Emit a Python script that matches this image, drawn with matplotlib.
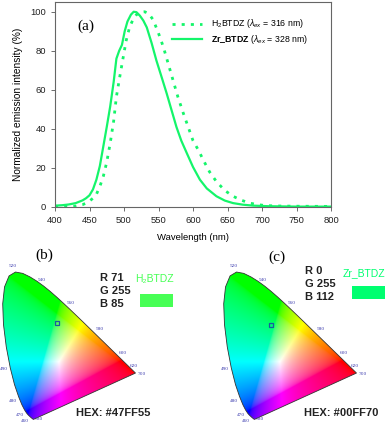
import numpy as np
import matplotlib
matplotlib.use("Agg")
import matplotlib.pyplot as plt
from matplotlib.patches import Polygon, Rectangle

SANS = "Liberation Sans"
SERIF = "Liberation Serif"
plt.rcParams["mathtext.fontset"] = "custom"
plt.rcParams["mathtext.rm"] = SANS
plt.rcParams["mathtext.it"] = SANS + ":italic"
plt.rcParams["mathtext.bf"] = SANS + ":bold"

# --- DONNEES ---
# spectres d'emission normalises
wl_zr = [400, 410, 420, 430, 440, 445, 450, 455, 460, 465, 470, 475, 480, 485, 489,
         493, 497, 501, 505, 510, 514, 518, 523, 528, 533, 540, 547, 555, 562, 569,
         576, 583, 591, 600, 610, 620, 634, 646, 658, 672, 687, 710, 750, 800]
int_zr = [0.7, 0.9, 1.3, 2.0, 3.4, 4.5, 6, 9, 14, 21, 31, 41, 51.5, 64, 76,
          80, 83, 90, 95, 98.5, 100, 99.8, 98, 95.5, 92, 84, 75, 66, 58, 49.5,
          41, 34, 27.6, 20.5, 14, 9.5, 5.5, 3.3, 2, 1.2, 0.7, 0.4, 0.2, 0.2]

wl_h2 = [400, 420, 430, 440, 445, 450, 455, 460, 465, 470, 475, 480, 485, 489, 494,
         499, 503, 508, 513, 518, 524, 530, 536, 542, 549, 557, 564, 571, 578, 586,
         593, 600, 608, 615, 624, 634, 646, 658, 670, 682, 694, 706, 725, 750, 800]
int_h2 = [0.2, 0.3, 0.5, 1.2, 2, 3, 4.5, 6.5, 10.5, 15.7, 23, 32.7, 44, 56.5, 67,
          77, 85, 92, 96, 98.5, 99.8, 100, 99, 96, 90, 82, 73.5, 65, 56.5, 48,
          41, 34, 29, 24, 18, 13, 8.5, 5.5, 3.5, 2, 1.2, 0.7, 0.5, 0.4, 0.3]

# locus spectral CIE 1931 (x, y)
locus_nm = [380, 400, 420, 440, 450, 460, 465, 470, 475, 480, 485, 490, 495, 500, 505,
            510, 515, 520, 525, 530, 535, 540, 545, 550, 555, 560, 565, 570, 575,
            580, 585, 590, 595, 600, 610, 620, 630, 640, 650, 700]
locus_x = [0.1741, 0.1733, 0.1714, 0.1644, 0.1566, 0.1440, 0.1355, 0.1241, 0.1096,
           0.0913, 0.0687, 0.0454, 0.0235, 0.0082, 0.0039, 0.0139, 0.0389, 0.0743,
           0.1142, 0.1547, 0.1929, 0.2296, 0.2658, 0.3016, 0.3373, 0.3731, 0.4087,
           0.4441, 0.4788, 0.5125, 0.5448, 0.5752, 0.6029, 0.6270, 0.6658, 0.6915,
           0.7079, 0.7190, 0.7260, 0.7347]
locus_y = [0.0050, 0.0048, 0.0051, 0.0109, 0.0177, 0.0297, 0.0399, 0.0578, 0.0868,
           0.1327, 0.2007, 0.2950, 0.4127, 0.5384, 0.6548, 0.7502, 0.8120, 0.8338,
           0.8262, 0.8059, 0.7816, 0.7543, 0.7243, 0.6923, 0.6589, 0.6245, 0.5896,
           0.5547, 0.5202, 0.4866, 0.4544, 0.4242, 0.3965, 0.3725, 0.3340, 0.3083,
           0.2920, 0.2809, 0.2740, 0.2653]
label_nm = [380, 460, 470, 480, 490, 520, 540, 560, 580, 600, 620, 700]

# coordonnees CIE des deux composes
names = ["H\u2082BTDZ", "Zr_BTDZ"]
cie_x = [0.300, 0.264]
cie_y = [0.547, 0.536]
rgb_vals = [(71, 255, 85), (0, 255, 112)]
hex_vals = ["#47FF55", "#00FF70"]
panels = ["(b)", "(c)"]

GREEN = "#14f56a"
DOT = (0, (1.1, 2.2))

fig = plt.figure(figsize=(3.92, 4.23), dpi=100)
W, H = 392.0, 423.0

# --- (a) SPECTRES ---
ax = fig.add_axes([55 / W, 1 - 207 / H, 276 / W, 205 / H])
ax.plot(wl_h2, int_h2, color=GREEN, lw=2.0, linestyle=DOT, dash_capstyle="butt")
ax.plot(wl_zr, int_zr, color=GREEN, lw=1.6)
ax.set_xlim(400, 800)
ax.set_ylim(0, 105)
ax.set_xticks(range(400, 801, 50))
ax.set_yticks(range(0, 101, 20))
ax.tick_params(labelsize=6.8, direction="out", length=3, width=0.6,
               colors="#555555", labelcolor="#222222")
for s in ax.spines.values():
    s.set_color("#666666")
    s.set_linewidth(0.8)
for lab in ax.get_xticklabels() + ax.get_yticklabels():
    lab.set_family(SANS)
ax.set_xlabel("Wavelength (nm)", fontsize=6.8, family=SANS, labelpad=6)
ax.set_ylabel("Normalized emission intensity (%)", fontsize=7.3, family=SANS, labelpad=5)
ax.text(86 / W, 1 - 26 / H, "(a)", transform=fig.transFigure, fontsize=11,
        family=SERIF, ha="center", va="center")

# legende faite a la main
for i, (ls, lw) in enumerate([(DOT, 2.0), ("-", 1.6)]):
    yy = 1 - (24 + 15 * i) / H
    fig.add_artist(plt.Line2D([172 / W, 202 / W], [yy, yy], color=GREEN, lw=lw,
                              linestyle=ls, dash_capstyle="butt"))
fig.text(211 / W, 1 - 24 / H, "H$_2$BTDZ ($\\lambda_{ex}$ = 316 nm)", fontsize=6.3,
         family=SANS, va="center")
fig.text(211 / W, 1 - 39 / H, "$\\mathbf{Zr\\_BTDZ}$ ($\\lambda_{ex}$ = 328 nm)",
         fontsize=6.3, family=SANS, va="center")

# --- couleurs du diagramme CIE ---
gx, gy = np.meshgrid(np.linspace(0, 0.8, 400), np.linspace(0.001, 0.9, 450))
X = gx / gy
Y = np.ones_like(gx)
Z = (1 - gx - gy) / gy
M = np.array([[3.2406, -1.5372, -0.4986],
              [-0.9689, 1.8758, 0.0415],
              [0.0557, -0.2040, 1.0570]])
rgb = np.einsum("ij,jkl->kli", M, np.array([X, Y, Z]))
rgb = np.clip(rgb, 0, None)
rgb = rgb / np.maximum(rgb.max(axis=2, keepdims=True), 1e-9)
rgb = np.clip(rgb, 0, 1) ** (1 / 2.2)

pts = np.column_stack([locus_x, locus_y])
wx, wy = 0.33, 0.33
sx, sy = 181.7, 177.7  # px par unite CIE

for k, x0 in enumerate([2.0, 223.0]):
    cax = fig.add_axes([x0 / W, 1 - 420.2 / H, 0.8 * sx / W, 0.9 * sy / H])
    cax.set_xlim(0, 0.8)
    cax.set_ylim(0, 0.9)
    cax.axis("off")
    im = cax.imshow(rgb, extent=[0, 0.8, 0.001, 0.9], origin="lower",
                    interpolation="bilinear", aspect="auto")
    poly = Polygon(pts, closed=True, facecolor="none", edgecolor="#333333", lw=0.6)
    cax.add_patch(poly)
    im.set_clip_path(poly)
    # graduations en nm
    for nm in label_nm:
        j = locus_nm.index(nm)
        px, py = locus_x[j], locus_y[j]
        dx, dy = px - wx, py - wy
        n = np.hypot(dx, dy)
        d = 0.037
        lx_, ly_ = px + d * dx / n, py + d * dy / n
        if nm == 380:
            lx_, ly_ = px + 0.03, py + 0.004
        cax.text(lx_, ly_, str(nm), fontsize=3.9, family=SERIF, color="#4040b0",
                 ha="center", va="center", clip_on=False)
    cax.add_patch(Rectangle((cie_x[k] - 0.011, cie_y[k] - 0.011), 0.022, 0.022,
                            facecolor="none", edgecolor="#1a5aa0", lw=0.9))

    r, g, b = rgb_vals[k]
    tx = 100 if k == 0 else 305
    ty = [278, 291, 304] if k == 0 else [271, 284, 297]
    for t, yv in zip(["R %d" % r, "G %d" % g, "B %d" % b], ty):
        fig.text(tx / W, 1 - yv / H, t, fontsize=8, family=SANS, weight="bold",
                 va="center", color="#222222")
    col = hex_vals[k]
    nx = 135 if k == 0 else 343
    ny = 279 if k == 0 else 273
    fig.text(nx / W, 1 - ny / H, names[k], fontsize=7.5, family=[SANS, "DejaVu Sans"],
             va="center", color=col)
    rx, ry = (140, 294) if k == 0 else (352, 286)
    fig.add_artist(Rectangle((rx / W, 1 - (ry + 13) / H), 33 / W, 13 / H,
                             transform=fig.transFigure, facecolor=col, edgecolor="none"))
    hx = 113 if k == 0 else 341
    fig.text(hx / W, 1 - 413 / H, "HEX: " + col, fontsize=8, family=SANS,
             weight="bold", ha="center", va="center", color="#222222")
    lx, ly = (44, 255) if k == 0 else (277, 257)
    fig.text(lx / W, 1 - ly / H, panels[k], fontsize=11, family=SERIF,
             ha="center", va="center")

fig.savefig("out.png", dpi=100)
